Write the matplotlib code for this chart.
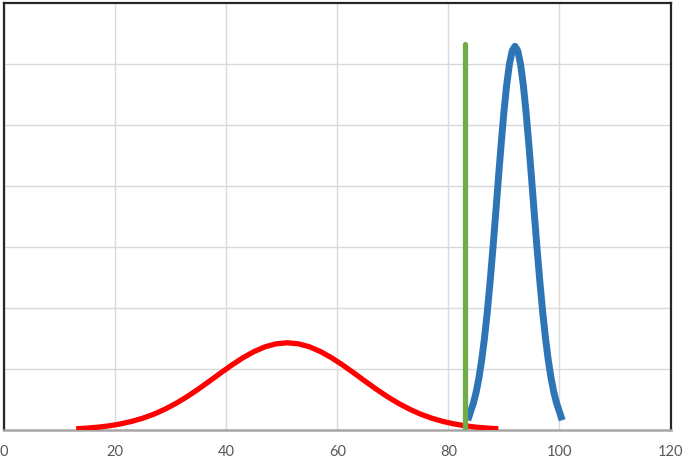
import matplotlib
matplotlib.use("Agg")
import matplotlib.pyplot as plt

# Red curve
red_x = [13, 15, 17, 19, 21, 23, 25, 27, 29, 31, 33, 35, 37, 39, 41, 43, 45, 47, 49, 51,
         53, 55, 57, 59, 61, 63, 65, 67, 69, 71, 73, 75, 77, 79, 81, 83, 85, 87, 89]
red_y = [0.02, 0.031, 0.047, 0.069, 0.10, 0.141, 0.194, 0.26, 0.342, 0.438, 0.548, 0.671,
         0.801, 0.934, 1.064, 1.183, 1.285, 1.364, 1.413, 1.43,
         1.413, 1.364, 1.285, 1.183, 1.064, 0.934, 0.801, 0.671, 0.548, 0.438, 0.342,
         0.26, 0.194, 0.141, 0.10, 0.069, 0.047, 0.031, 0.02]

# Blue curve
blue_x = [83.5, 84, 84.5, 85, 85.5, 86, 86.5, 87, 87.5, 88, 88.5, 89, 89.5, 90, 90.5, 91,
          91.5, 92, 92.5, 93, 93.5, 94, 94.5, 95, 95.5, 96, 96.5, 97, 97.5, 98, 98.5, 99,
          99.5, 100, 100.5]
blue_y = [0.16, 0.30, 0.437, 0.617, 0.849, 1.142, 1.50, 1.923, 2.409, 2.947, 3.52, 4.106,
          4.677, 5.204, 5.654, 5.999, 6.216, 6.29, 6.216, 5.999, 5.654, 5.204, 4.677, 4.106,
          3.52, 2.947, 2.409, 1.923, 1.50, 1.142, 0.849, 0.617, 0.437, 0.30, 0.16]

# Green vertical line
green_x = [83.0, 83.0]
green_y = [0.0, 6.33]

x_ticks = [0, 20, 40, 60, 80, 100, 120]

fig = plt.figure(figsize=(6.85, 4.59), dpi=100)
ax = fig.add_axes([4 / 685, 29 / 459, 666.5 / 685, 427 / 459])

ax.plot(red_x, red_y, color="#FF0000", lw=3.8, solid_capstyle="butt", zorder=3)
ax.plot(blue_x, blue_y, color="#2E75B6", lw=5.0, solid_capstyle="butt", zorder=4)
ax.plot(green_x, green_y, color="#70AD47", lw=3.8, solid_capstyle="round", zorder=5)

ax.set_xlim(0, 120)
ax.set_ylim(0, 7)
ax.set_xticks(x_ticks)
ax.set_xticklabels([str(t) for t in x_ticks])
ax.set_yticks([1, 2, 3, 4, 5, 6])
ax.set_yticklabels([])
ax.grid(True, color="#D9D9D9", lw=1.0, zorder=0)
ax.set_axisbelow(True)
ax.tick_params(axis="both", length=0)
ax.tick_params(axis="x", pad=11, labelsize=10.5, labelcolor="#595959")
for lab in ax.get_xticklabels():
    lab.set_family(["Lato", "DejaVu Sans"])

for s in ["left", "top", "right"]:
    ax.spines[s].set_color("#262626")
    ax.spines[s].set_linewidth(1.6)
ax.spines["bottom"].set_color("#A6A6A6")
ax.spines["bottom"].set_linewidth(1.8)

fig.savefig("out.png", dpi=100)
